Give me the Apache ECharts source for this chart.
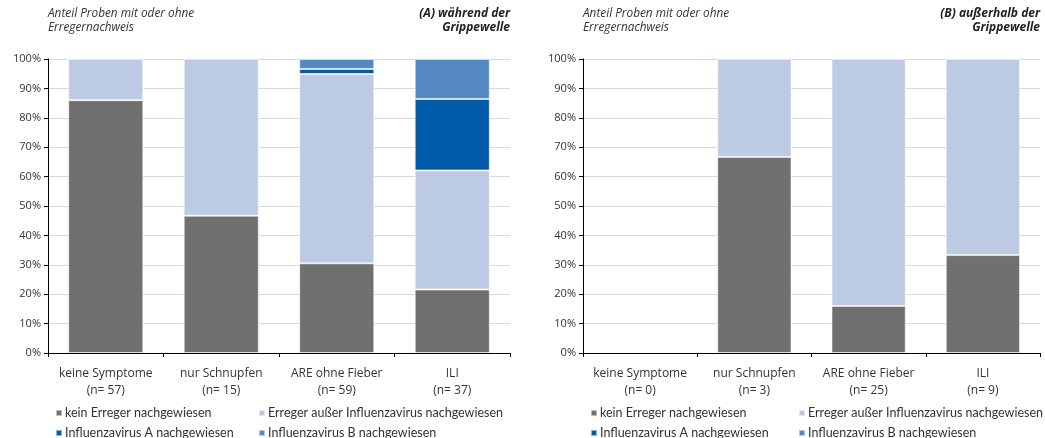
<!DOCTYPE html>
<html>
<head>
<meta charset="utf-8">
<script src="https://cdn.jsdelivr.net/npm/echarts@6/dist/echarts.min.js"></script>
<style>
  html, body { margin: 0; padding: 0; background: #fff; }
  #chart { width: 1045px; height: 438px; }
</style>
</head>
<body>
<div id="chart"></div>
<script>
// Kategorien (Symptomgruppen) und Stichprobengrößen je Zeitraum
const categories = ['keine Symptome', 'nur Schnupfen', 'ARE ohne Fieber', 'ILI'];
const nDuring = [57, 15, 59, 37];
const nOutside = [0, 3, 25, 9];

// Anteile in % – (A) während der Grippewelle
const duringNone   = [86.0, 46.7, 30.5, 21.6];
const duringOther  = [14.0, 53.3, 64.4, 40.5];
const duringFluA   = [0, 0, 1.7, 24.3];
const duringFluB   = [0, 0, 3.4, 13.6];

// Anteile in % – (B) außerhalb der Grippewelle
const outsideNone  = [0, 66.7, 16.0, 33.3];
const outsideOther = [0, 33.3, 84.0, 66.7];
const outsideFluA  = [0, 0, 0, 0];
const outsideFluB  = [0, 0, 0, 0];

const yTicks = [0, 10, 20, 30, 40, 50, 60, 70, 80, 90, 100];

const seriesNames = [
  'kein Erreger nachgewiesen',
  'Erreger außer Influenzavirus nachgewiesen',
  'Influenzavirus A nachgewiesen',
  'Influenzavirus B nachgewiesen'
];
const colors = ['#707070', '#bdcae4', '#005ca8', '#5589c4'];

const FONT = '"Open Sans", "Noto Sans", sans-serif';
const LEGEND_FONT = 'Lato, "Open Sans", sans-serif';
const TXT = '#333333';

function xLabels(ns) {
  return categories.map((c, i) => c + '\n(n= ' + ns[i] + ')');
}

function makeAxes(idx, ns) {
  return {
    x: {
      type: 'category', gridIndex: idx, data: xLabels(ns),
      axisLine: { lineStyle: { color: '#000', width: 1 } },
      axisTick: { show: true, length: 4, lineStyle: { color: '#000' } },
      axisLabel: { color: TXT, fontFamily: FONT, fontSize: 12, lineHeight: 17, margin: 12, interval: 0 }
    },
    y: {
      type: 'value', gridIndex: idx, min: 0, max: 100, interval: 10,
      axisLine: { show: true, lineStyle: { color: '#000', width: 1 } },
      axisTick: { show: true, length: 4, lineStyle: { color: '#000' } },
      splitLine: { lineStyle: { color: '#d9d9d9', width: 1 } },
      axisLabel: {
        color: TXT, fontFamily: FONT, fontSize: 11, margin: 7,
        formatter: v => (yTicks.includes(v) ? v + '%' : '')
      }
    }
  };
}

// a share of 0 draws no segment at all
function makeSeries(idx, sets) {
  return sets.map((d, k) => ({
    name: seriesNames[k], type: 'bar', stack: 'p' + idx,
    xAxisIndex: idx, yAxisIndex: idx,
    barWidth: '65%', data: d.map(v => (v === 0 ? null : v)),
    itemStyle: { color: colors[k], borderColor: 'rgba(255,255,255,0.55)', borderWidth: 1 },
    emphasis: { disabled: true }
  }));
}

const axA = makeAxes(0, nDuring);
const axB = makeAxes(1, nOutside);

// one legend entry per slot: two rows, two columns under each panel
function legendItem(left, top, name) {
  return {
    left: left, top: top, padding: 0,
    itemWidth: 6, itemHeight: 6, icon: 'rect',
    selectedMode: false,
    data: [name],
    textStyle: { color: TXT, fontFamily: LEGEND_FONT, fontSize: 12.5, lineHeight: 14, padding: [0, 0, 0, -2] }
  };
}

function panelLegend(colLeft1, colLeft2) {
  return [
    legendItem(colLeft1, 406, seriesNames[0]),
    legendItem(colLeft2, 406, seriesNames[1]),
    legendItem(colLeft1, 426, seriesNames[2]),
    legendItem(colLeft2, 426, seriesNames[3])
  ];
}

function headerTexts(xLeft, xRight, rightText) {
  return [
    {
      type: 'text', left: xLeft, top: 7,
      style: { text: 'Anteil Proben mit oder ohne\nErregernachweis', font: 'italic 11.8px ' + FONT, fill: TXT, lineHeight: 14 }
    },
    {
      type: 'text', x: xRight, y: 7,
      style: { text: rightText, font: 'italic bold 12px ' + FONT, fill: '#222', lineHeight: 14, textAlign: 'right' }
    }
  ];
}

const option = {
  animation: false,
  textStyle: { fontFamily: FONT },
  grid: [
    { left: 48, top: 59, width: 462, height: 294 },
    { left: 583, top: 59, width: 457, height: 294 }
  ],
  xAxis: [axA.x, axB.x],
  yAxis: [axA.y, axB.y],
  legend: [
    ...panelLegend(55, 258),
    ...panelLegend(590, 798)
  ],
  graphic: [
    ...headerTexts(48, 510, '(A) während der\nGrippewelle'),
    ...headerTexts(583, 1040, '(B) außerhalb der\nGrippewelle')
  ],
  series: [
    ...makeSeries(0, [duringNone, duringOther, duringFluA, duringFluB]),
    ...makeSeries(1, [outsideNone, outsideOther, outsideFluA, outsideFluB])
  ]
};

const chart = echarts.init(document.getElementById('chart'), null, { renderer: 'canvas' });
chart.setOption(option);
</script>
</body>
</html>
